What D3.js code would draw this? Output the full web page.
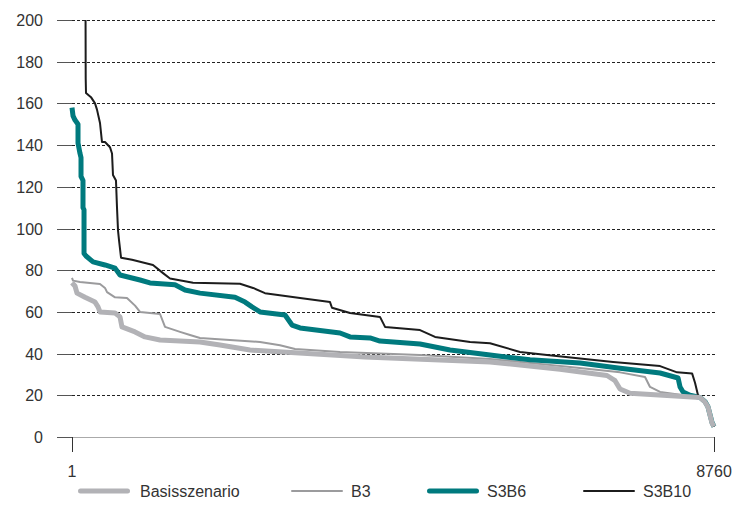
<!DOCTYPE html>
<html>
<head>
<meta charset="utf-8">
<script src="https://cdnjs.cloudflare.com/ajax/libs/d3/7.8.5/d3.min.js"></script>
<style>
    body { margin: 0; background: #fff; }
    svg text { font-family: "Liberation Sans", Arial, sans-serif; fill: #333; }
    .grid line { stroke: #222; stroke-dasharray: 3,2; }
</style>
</head>
<body>
<div id="chart"></div>
<script>
// hours (sorted) and values
var basisHours = [1, 42, 69, 178, 315, 356, 383, 588, 656, 683, 861, 997, 1202, 1747, 2020, 2430, 3999, 5704, 6659, 7300, 7410, 7478, 7615, 8569, 8637, 8678, 8733, 8760];
var basisValues = [74, 72.4, 69, 67, 64.7, 62.4, 60, 59.5, 57.6, 52.8, 50.4, 48, 46.5, 45.6, 44.1, 41.7, 38.4, 36, 32.5, 29.5, 27, 23, 21, 19, 16.8, 14.4, 6.7, 5];

var b3Hours = [1, 15, 110, 383, 451, 479, 588, 751, 861, 929, 1202, 1270, 1475, 1611, 1747, 2566, 2839, 3044, 3658, 4749, 5704, 6796, 7478, 7819, 7887, 8024, 8569, 8637, 8678, 8733, 8760];
var b3Values = [76.3, 75, 74.3, 73.4, 71.5, 69.5, 67, 66.7, 63, 60, 59, 52.8, 50.4, 48.9, 47.5, 45.6, 44, 42.2, 40.8, 39.3, 37.4, 33.6, 31, 28.8, 24, 21.6, 19, 17, 14.5, 7, 5];

var s3b6Hours = [1, 15, 42, 83, 83, 110, 124, 124, 151, 151, 165, 165, 192, 288, 451, 588, 656, 929, 1065, 1406, 1543, 1747, 2225, 2362, 2457, 2566, 2907, 3003, 3112, 3658, 3794, 4067, 4203, 4613, 4749, 5159, 5704, 6250, 6932, 7478, 8024, 8270, 8297, 8338, 8433, 8569, 8637, 8678, 8733, 8760];
var s3b6Values = [158, 154, 152, 150, 141, 136, 134, 125, 123, 110, 109, 88, 86.8, 84, 82.5, 81, 77.7, 75.3, 73.9, 73, 70.5, 69, 67, 64.7, 62.4, 60, 58.5, 53.7, 52.3, 49.9, 48, 47.5, 46, 45, 44.6, 41.7, 39.3, 37, 35.5, 33, 30.7, 28.3, 24, 21.6, 20, 19, 17, 14.5, 7, 5];

var s3b10Hours = [186, 188, 192, 260, 315, 342, 383, 410, 451, 519, 547, 560, 601, 615, 629, 642, 670, 820, 1106, 1243, 1338, 1652, 2293, 2471, 2634, 3112, 3521, 3548, 3794, 4203, 4272, 4749, 4954, 5432, 5704, 6113, 6482, 7383, 8024, 8256, 8461, 8501, 8542, 8569, 8637, 8678, 8733, 8760];
var s3b10Values = [200, 172, 165, 163, 160, 157, 150.6, 141.5, 141.5, 139, 136, 125.7, 123, 110, 99, 94.5, 86, 85, 82.5, 78.6, 76, 74, 73.5, 71.5, 69, 66.7, 64.7, 62, 59.5, 57.6, 52.8, 51.3, 48, 45.6, 45, 40.8, 39.3, 36, 34, 31, 30.5, 26, 20, 19, 17, 14.5, 7, 5];

var seriesNames = ["Basisszenario", "B3", "S3B6", "S3B10"];
var yTicks = [0, 20, 40, 60, 80, 100, 120, 140, 160, 180, 200];
var xTicks = [1, 8760];

function zipSeries(hours, values) {
    return hours.map(function(h, i) { return {hour: h, value: values[i]}; });
}

var seriesData = [
    {key: "Basisszenario", values: zipSeries(basisHours, basisValues), color: "#b2b2b6", width: 5},
    {key: "B3", values: zipSeries(b3Hours, b3Values), color: "#9b9b9d", width: 2},
    {key: "S3B6", values: zipSeries(s3b6Hours, s3b6Values), color: "#007a7e", width: 5},
    {key: "S3B10", values: zipSeries(s3b10Hours, s3b10Values), color: "#1c1c1c", width: 2}
];

var width = 733, height = 507;

var svg = d3.select("#chart").append("svg")
    .attr("width", width)
    .attr("height", height);

var xScale = d3.scaleLinear()
    .domain([1, 8760])
    .range([72, 714]);

var yScale = d3.scaleLinear()
    .domain([0, 200])
    .range([437, 20]);

// grid lines + y ticks
var grid = svg.append("g").attr("class", "grid");
grid.selectAll("line")
    .data(yTicks)
    .enter().append("line")
    .attr("x1", 72)
    .attr("x2", 715)
    .attr("y1", function(d) { return Math.round(yScale(d)) + 0.5; })
    .attr("y2", function(d) { return Math.round(yScale(d)) + 0.5; });

svg.append("g").selectAll("line")
    .data(yTicks)
    .enter().append("line")
    .attr("x1", 57)
    .attr("x2", 72)
    .attr("y1", function(d) { return Math.round(yScale(d)) + 0.5; })
    .attr("y2", function(d) { return Math.round(yScale(d)) + 0.5; })
    .attr("stroke", "#555");

svg.append("g").selectAll("text")
    .data(yTicks)
    .enter().append("text")
    .attr("x", 43)
    .attr("y", function(d) { return yScale(d) + 6; })
    .attr("text-anchor", "end")
    .style("font-size", "16px")
    .text(function(d) { return d; });

// x axis
svg.append("line")
    .attr("x1", 72).attr("x2", 714.5)
    .attr("y1", 437.5).attr("y2", 437.5)
    .attr("stroke", "#aaa");

svg.append("g").selectAll("line")
    .data(xTicks)
    .enter().append("line")
    .attr("x1", function(d) { return Math.round(xScale(d)) + 0.5; })
    .attr("x2", function(d) { return Math.round(xScale(d)) + 0.5; })
    .attr("y1", 437)
    .attr("y2", 452)
    .attr("stroke", "#333");

svg.append("g").selectAll("text")
    .data(xTicks)
    .enter().append("text")
    .attr("x", function(d) { return xScale(d); })
    .attr("y", 477)
    .attr("text-anchor", "middle")
    .style("font-size", "16px")
    .text(function(d) { return d; });

// lines
var line = d3.line()
    .x(function(d) { return xScale(d.hour); })
    .y(function(d) { return yScale(d.value); })
    .curve(d3.curveLinear);

// draw order: B3, S3B6, S3B10, then Basisszenario on top
var drawOrder = [1, 2, 3, 0];
svg.append("g").selectAll("path")
    .data(drawOrder.map(function(i) { return seriesData[i]; }))
    .enter().append("path")
    .attr("d", function(d) { return line(d.values); })
    .attr("fill", "none")
    .attr("stroke", function(d) { return d.color; })
    .attr("stroke-width", function(d) { return d.width; })
    .attr("stroke-linejoin", "round");

// legend
var legendX = [78, 291, 427, 583];
var legend = svg.append("g").selectAll("g")
    .data(seriesData)
    .enter().append("g")
    .attr("transform", function(d, i) { return "translate(" + legendX[i] + ",491)"; });

legend.append("line")
    .attr("x1", function(d) { return d.width / 2; })
    .attr("x2", function(d) { return 52 - d.width / 2; })
    .attr("stroke", function(d) { return d.color; })
    .attr("stroke-width", function(d) { return d.width; })
    .attr("stroke-linecap", "round");

legend.append("text")
    .attr("x", function(d, i) { return i == 0 ? 62 : 60; })
    .attr("y", 6)
    .style("font-size", "16px")
    .text(function(d) { return d.key; });
</script>
</body>
</html>
